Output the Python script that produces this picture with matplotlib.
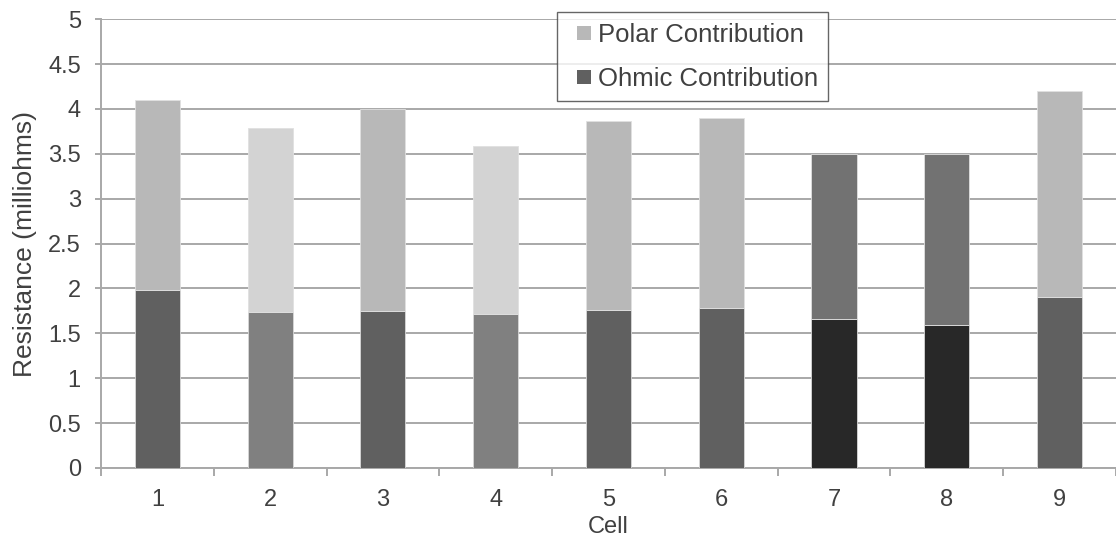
import matplotlib
matplotlib.use("Agg")
import matplotlib.pyplot as plt
import numpy as np
from matplotlib.lines import Line2D

plt.rcParams["font.family"] = ["Liberation Sans", "DejaVu Sans"]

cells = ["1", "2", "3", "4", "5", "6", "7", "8", "9"]
ohmic = [1.98, 1.74, 1.75, 1.71, 1.76, 1.78, 1.66, 1.59, 1.90]
polar = [2.12, 2.05, 2.25, 1.88, 2.11, 2.12, 1.84, 1.91, 2.30]
y_ticks = [0, 0.5, 1, 1.5, 2, 2.5, 3, 3.5, 4, 4.5, 5]

# shading per cell (bottom / top segment)
ohmic_colors = ["#606060", "#808080", "#606060", "#808080", "#606060",
                "#606060", "#282828", "#282828", "#606060"]
polar_colors = ["#b8b8b8", "#d3d3d3", "#b8b8b8", "#d3d3d3", "#b8b8b8",
                "#b8b8b8", "#727272", "#727272", "#b8b8b8"]

TEXT = "#404040"
GRID = "#a8a8a8"

fig = plt.figure(figsize=(11.16, 5.48), dpi=100)
ax = fig.add_axes([0.0905, 0.146, 0.9095, 0.819])

x = np.arange(1, len(cells) + 1)
width = 0.4
ax.bar(x, ohmic, width, color=ohmic_colors, edgecolor="#d8d8d8", linewidth=0.6, zorder=3)
ax.bar(x, polar, width, bottom=ohmic, color=polar_colors, edgecolor="#e0e0e0",
       linewidth=0.6, zorder=3)

ax.set_xlim(0.5, len(cells) + 0.5)
ax.set_ylim(0, 5)
ax.set_yticks(y_ticks)
ax.set_yticklabels([f"{v:g}" for v in y_ticks])
ax.set_xticks(x)
ax.set_xticklabels(cells)
ax.set_xticks(np.arange(0.5, len(cells) + 0.6, 1), minor=True)

ax.grid(axis="y", color=GRID, linewidth=1.4, zorder=0)
for side in ["top", "right"]:
    ax.spines[side].set_visible(False)
for side in ["left", "bottom"]:
    ax.spines[side].set_color(GRID)
    ax.spines[side].set_linewidth(1.4)

ax.tick_params(axis="y", direction="out", length=4.5, width=1.4, color=GRID,
               labelsize=17, labelcolor=TEXT, pad=10)
ax.tick_params(axis="x", which="major", length=0, labelsize=17, labelcolor=TEXT, pad=15)
ax.tick_params(axis="x", which="minor", direction="out", length=5.5, width=1.4, color=GRID)

ax.set_ylabel("Resistance (milliohms)", fontsize=19, color=TEXT, labelpad=8)
ax.set_xlabel("Cell", fontsize=17, color=TEXT, labelpad=4)

handles = [Line2D([], [], linestyle="none", marker="s", markersize=9.5,
                  markerfacecolor="#b8b8b8", markeredgewidth=0, label="Polar Contribution"),
           Line2D([], [], linestyle="none", marker="s", markersize=9.5,
                  markerfacecolor="#606060", markeredgewidth=0, label="Ohmic Contribution")]
leg = fig.legend(handles=handles, loc="upper left", bbox_to_anchor=(0.4988, 0.9776),
                 borderaxespad=0, fontsize=18.5, frameon=True, fancybox=False,
                 handlelength=1.36, handletextpad=-0.15, labelspacing=0.8,
                 borderpad=0.4, labelcolor=TEXT)
leg.get_frame().set_edgecolor("#404040")
leg.get_frame().set_linewidth(1.0)

fig.savefig("out.png", dpi=100)
